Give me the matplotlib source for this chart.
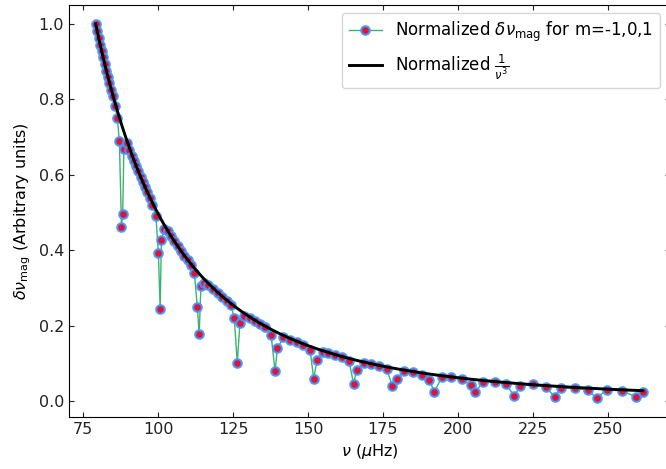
import numpy as np
import matplotlib
matplotlib.use("Agg")
import matplotlib.pyplot as plt

# Frequencies (muHz) and normalized magnetic shifts
nu_low = [79.2, 79.7, 80.2, 80.7, 81.2, 81.7, 82.2, 82.7, 83.2, 83.7, 84.3, 84.9, 85.7, 86.4,
          87.1, 87.8, 88.2, 88.6,
          89.6, 90.4, 91.2, 92.0, 92.7, 93.4, 94.2, 94.9, 95.7, 96.4, 97.3, 98.1, 99.3,
          100.1, 100.7, 101.1, 102.1]
dnu_low = [1.000, 0.981, 0.963, 0.945, 0.928, 0.911, 0.894, 0.876, 0.860, 0.844, 0.826, 0.808, 0.783, 0.751,
           0.689, 0.462, 0.497, 0.668,
           0.684, 0.667, 0.651, 0.636, 0.623, 0.609, 0.595, 0.582, 0.567, 0.554, 0.539, 0.521, 0.490,
           0.392, 0.244, 0.426, 0.457]

nu_mid = [103.2, 104.3, 105.4, 106.6, 107.7, 108.8, 109.9, 111.0, 112.1,
          113.1, 113.7, 114.3, 115.4,
          116.8, 118.4, 119.9, 121.4, 122.9, 124.3,
          125.4, 126.4, 127.3, 128.7,
          130.7, 132.3, 134.0, 135.7, 137.7,
          139.0, 139.8, 141.8,
          144.0, 146.2, 148.4, 150.7,
          151.9, 153.0, 155.0]
dnu_mid = [0.451, 0.437, 0.424, 0.410, 0.397, 0.385, 0.373, 0.360, 0.339,
           0.249, 0.178, 0.306, 0.314,
           0.308, 0.297, 0.287, 0.277, 0.266, 0.254,
           0.221, 0.102, 0.206, 0.227,
           0.220, 0.213, 0.205, 0.197, 0.175,
           0.080, 0.140, 0.169,
           0.163, 0.156, 0.148, 0.135,
           0.060, 0.109, 0.130]

nu_high = [156.8, 159.0, 161.2, 163.7,
           165.2, 166.2, 168.5,
           170.9, 173.6, 176.3,
           178.1, 179.6, 181.9,
           185.0, 187.9, 190.4,
           192.1, 194.6, 197.7, 201.2,
           204.2, 205.7, 208.4, 212.4, 216.0,
           218.8, 220.7, 225.1, 229.2,
           232.3, 234.2, 238.9, 243.4,
           246.2, 249.6, 254.8,
           259.2, 261.6]
dnu_high = [0.128, 0.122, 0.116, 0.106,
            0.045, 0.083, 0.100,
            0.098, 0.092, 0.084,
            0.040, 0.060, 0.079,
            0.077, 0.070, 0.057,
            0.025, 0.063, 0.064, 0.058,
            0.043, 0.023, 0.051, 0.051, 0.045,
            0.014, 0.039, 0.045, 0.037,
            0.012, 0.034, 0.035, 0.029,
            0.008, 0.030, 0.027,
            0.012, 0.023]

nu = np.array(nu_low + nu_mid + nu_high)
dnu = np.array(dnu_low + dnu_mid + dnu_high)
inv_cube = (1.0 / nu**3) / (1.0 / nu[0]**3)

W, H = 666, 469
fig = plt.figure(figsize=(W / 100, H / 100), dpi=100)
ax = fig.add_axes([69 / W, (H - 417) / H, (670 - 69) / W, (417 - 5) / H])

ax.plot(nu, dnu, '-', color='#3cb371', lw=1.0, marker='o', markersize=6.2,
        markerfacecolor='#dc143c', markeredgecolor=(0.25, 0.6, 1.0, 0.9),
        markeredgewidth=1.5, label=r'Normalized $\delta\nu_{\rm mag}$ for m=-1,0,1', zorder=2)
ax.plot(nu, inv_cube, '-', color='black', lw=2.1, label=r'Normalized $\frac{1}{\nu^3}$', zorder=3)

ax.set_xlim(70.3, 270.7)
ax.set_ylim(-0.042, 1.05)
ax.set_xticks([75, 100, 125, 150, 175, 200, 225, 250])
ax.set_yticks([0.0, 0.2, 0.4, 0.6, 0.8, 1.0])
ax.tick_params(direction='in', top=True, right=True, labelsize=11.5, colors='#222222')
ax.set_xlabel(r'$\nu$ ($\mu$Hz)', fontsize=11.5)
ax.set_ylabel(r'$\delta\nu_{\rm mag}$ (Arbitrary units)', fontsize=11.5)

leg = ax.legend(loc='upper right', bbox_to_anchor=((660 - 69) / 601, (417 - 13) / 412),
                borderaxespad=0, fontsize=12, framealpha=0.8)

fig.savefig('out.png', dpi=100)
